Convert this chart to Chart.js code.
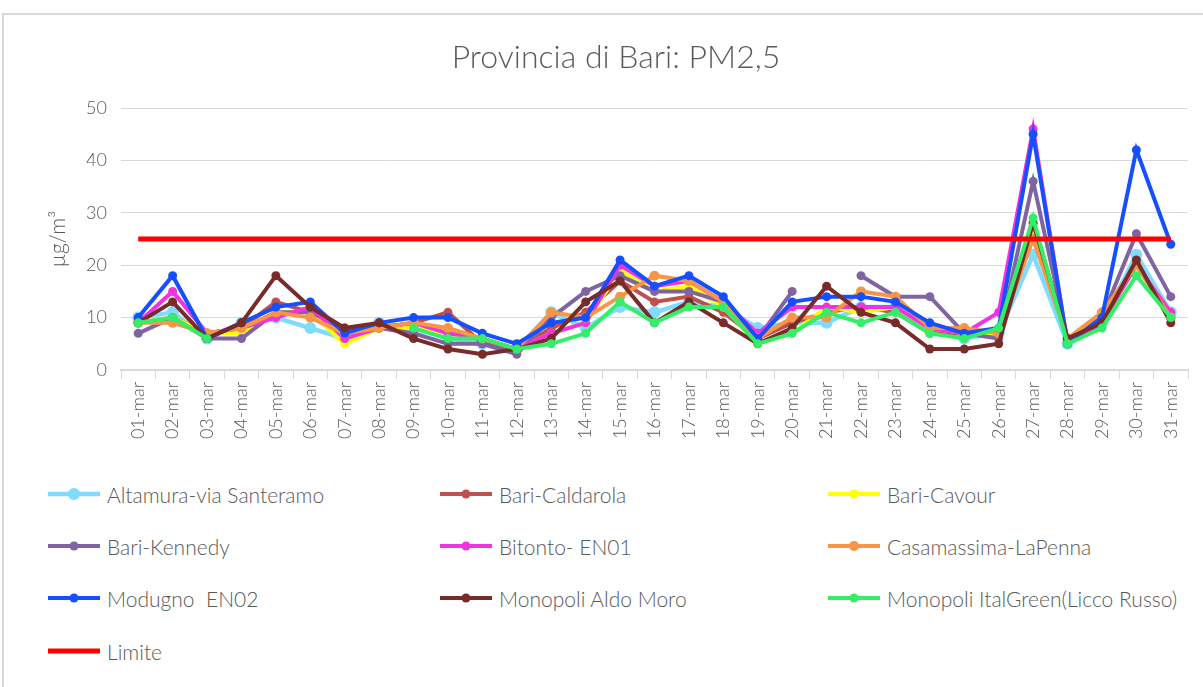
<!DOCTYPE html>
<html>
<head>
  <title>Provincia di Bari: PM2,5</title>
  <script src="https://cdn.jsdelivr.net/npm/chart.js"></script>
  <style>
    body { margin: 0; background: #fff; font-family: Lato, sans-serif; overflow: hidden; }
    #frame { position: absolute; left: 2px; top: 13px; width: 1300px; height: 800px; border: 2px solid #d9d9d9; }
    #wrap { position: absolute; left: 0; top: 0; width: 1203px; height: 470px; }
    .item { position: absolute; height: 24px; display: flex; align-items: center; font-size: 21px; font-weight: 300; color: #595959; white-space: pre; }
    .item canvas { margin-right: 7px; }
  </style>
</head>
<body>
  <div id="frame"></div>
  <div id="wrap"><canvas id="pmChart" width="1203" height="470"></canvas></div>
  <div id="legend"></div>

  <script>
    const days = ['01-mar','02-mar','03-mar','04-mar','05-mar','06-mar','07-mar','08-mar','09-mar','10-mar',
                  '11-mar','12-mar','13-mar','14-mar','15-mar','16-mar','17-mar','18-mar','19-mar','20-mar',
                  '21-mar','22-mar','23-mar','24-mar','25-mar','26-mar','27-mar','28-mar','29-mar','30-mar','31-mar'];

    const altamura    = [10, 11, 6, 9, 10, 8, 6, 9, 8, 6, 5, 4, 11, 8, 12, 11, 13, 12, 8, 9, 9, 12, 12, 8, 6, 7, 22, 5, 9, 22, 11];
    const caldarola   = [9, 10, 7, 8, 13, 11, 7, 8, 9, 11, 5, 4, 8, 11, 17, 13, 14, 11, 6, 9, 11, 12, 11, 7, 7, 7, 26, 6, 10, 20, 10];
    const cavour      = [9, 10, 7, 7, 11, 11, 5, 8, 8, 7, 6, 4, 7, 9, 19, 15, 16, 12, 5, 7, 12, 11, 12, 8, 7, 7, 27, 6, 9, 20, 11];
    const kennedy     = [7, 10, 6, 6, 11, 11, 8, 8, 7, 5, 5, 3, 10, 15, 18, 15, 15, 13, 6, 15, null, 18, 14, 14, 7, 6, 36, 6, 10, 26, 14];
    const bitonto     = [9, 15, 7, 8, 10, 12, 6, 8, 9, 7, 6, 4, 7, 9, 20, 16, 17, 13, 7, 12, 12, 12, 12, 8, 7, 11, 46, 5, 9, 20, 11];
    const casamassima = [9, 9, 7, 8, 11, 10, 7, 8, 9, 8, 6, 4, 11, 10, 14, 18, 17, 13, 6, 10, 10, 15, 14, 8, 8, 7, 25, 6, 11, 20, 10];
    const modugno     = [10, 18, 6, 9, 12, 13, 7, 9, 10, 10, 7, 5, 9, 10, 21, 16, 18, 14, 6, 13, 14, 14, 13, 9, 7, 8, 45, 5, 10, 42, 24];
    const aldoMoro    = [9, 13, 6, 9, 18, 12, 8, 9, 6, 4, 3, 4, 6, 13, 17, 9, 13, 9, 5, 8, 16, 11, 9, 4, 4, 5, 28, 6, 9, 21, 9];
    const italGreen   = [9, 10, 6, null, null, null, null, null, 8, 6, 6, 4, 5, 7, 13, 9, 12, 12, 5, 7, 11, 9, 11, 7, 6, 8, 29, 5, 8, 18, 10];
    const limite      = [25, 25, 25, 25, 25, 25, 25, 25, 25, 25, 25, 25, 25, 25, 25, 25, 25, 25, 25, 25,
                         25, 25, 25, 25, 25, 25, 25, 25, 25, 25, 25];

    const series = [
      { label: 'Altamura-via Santeramo', data: altamura, color: '#7fdbff', r: 6, w: 4.5 },
      { label: 'Bari-Caldarola', data: caldarola, color: '#c0504d', r: 4.5, w: 4 },
      { label: 'Bari-Cavour', data: cavour, color: '#ffff00', r: 4.5, w: 4 },
      { label: 'Bari-Kennedy', data: kennedy, color: '#8064a2', r: 4.5, w: 4 },
      { label: 'Bitonto- EN01', data: bitonto, color: '#f032e0', r: 4.5, w: 4 },
      { label: 'Casamassima-LaPenna', data: casamassima, color: '#f79646', r: 5, w: 4 },
      { label: 'Modugno  EN02', data: modugno, color: '#1450ff', r: 4.5, w: 4 },
      { label: 'Monopoli Aldo Moro', data: aldoMoro, color: '#772c2a', r: 4.5, w: 4 },
      { label: 'Monopoli ItalGreen(Licco Russo)', data: italGreen, color: '#33ee66', r: 4.5, w: 4 },
      { label: 'Limite', data: limite, color: '#ff0000', r: 0, w: 5 }
    ];

    const datasets = series.map((s, i) => ({
      label: s.label,
      data: s.data,
      borderColor: s.color,
      backgroundColor: s.color,
      borderWidth: s.w,
      pointRadius: s.r,
      pointBorderWidth: 0,
      pointBackgroundColor: s.color,
      spanGaps: false,
      tension: 0,
      order: series.length - i   // later series on top, like the original
    }));

    const tickFont = { family: 'Lato', size: 18, weight: 300 };

    const chart = new Chart(document.getElementById('pmChart'), {
      type: 'line',
      data: { labels: days, datasets: datasets },
      options: {
        responsive: false,
        animation: false,
        layout: { padding: { left: 44, right: 15, top: 30, bottom: 0 } },
        plugins: {
          legend: { display: false },
          tooltip: { enabled: false },
          title: {
            display: true,
            text: 'Provincia di Bari: PM2,5',
            color: '#595959',
            font: { family: 'Lato', size: 32, weight: 300 },
            padding: { top: 8, bottom: 31.6 }
          }
        },
        scales: {
          x: {
            offset: true,
            grid: { offset: true, drawOnChartArea: false, color: '#d9d9d9', tickLength: 9 },
            border: { color: '#d9d9d9', width: 2 },
            ticks: { minRotation: 90, maxRotation: 90, autoSkip: false, color: '#595959', font: tickFont, padding: 3 },
            afterFit: s => { s.height = 100; }
          },
          y: {
            min: 0,
            max: 50,
            ticks: { stepSize: 10, color: '#595959', font: tickFont, padding: 14 },
            grid: { color: '#d9d9d9', drawTicks: false },
            border: { display: false },
            title: { display: true, text: 'µg/m³', color: '#595959', font: { family: 'Lato', size: 21, weight: 300 }, padding: 2 },
            afterFit: s => { s.width = 77; }
          }
        }
      }
    });

    // legend in three columns, built from the chart datasets
    const colX = [48, 440, 828];
    const rowY = [494, 546, 598, 651];
    const legend = document.getElementById('legend');
    chart.data.datasets.forEach((ds, i) => {
      const item = document.createElement('div');
      item.className = 'item';
      item.style.left = colX[i % 3] + 'px';
      item.style.top = (rowY[Math.floor(i / 3)] - 12) + 'px';
      const sw = document.createElement('canvas');
      sw.width = 52; sw.height = 14;
      const c = sw.getContext('2d');
      c.strokeStyle = ds.borderColor;
      c.lineWidth = ds.borderWidth;
      c.beginPath(); c.moveTo(0, 7); c.lineTo(52, 7); c.stroke();
      if (ds.pointRadius > 0) {
        c.fillStyle = ds.borderColor;
        c.beginPath(); c.arc(26, 7, ds.pointRadius, 0, Math.PI * 2); c.fill();
      }
      item.appendChild(sw);
      const txt = document.createElement('span');
      txt.textContent = ds.label;
      item.appendChild(txt);
      legend.appendChild(item);
    });
  </script>
</body>
</html>
